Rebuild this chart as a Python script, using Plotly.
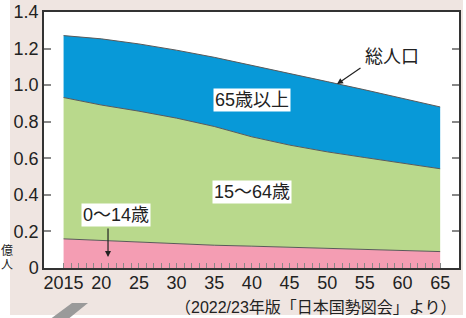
import plotly.graph_objects as go

# Data (億人)
years = [2015, 2020, 2025, 2030, 2035, 2040, 2045, 2050, 2055, 2060, 2065]
age_0_14 = [0.1595, 0.1507, 0.1407, 0.1321, 0.1246, 0.1194, 0.1138, 0.1077, 0.1012, 0.0951, 0.0898]
age_15_64 = [0.7728, 0.7406, 0.7170, 0.6875, 0.6494, 0.5978, 0.5584, 0.5275, 0.5028, 0.4793, 0.4529]
age_65_plus = [0.3387, 0.3619, 0.3677, 0.3716, 0.3782, 0.3921, 0.3919, 0.3841, 0.3704, 0.3540, 0.3381]

x_tickvals = [2015, 2020, 2025, 2030, 2035, 2040, 2045, 2050, 2055, 2060, 2065]
x_ticktext = ["2015", "20", "25", "30", "35", "40", "45", "50", "55", "60", "65"]
y_tickvals = [0, 0.2, 0.4, 0.6, 0.8, 1.0, 1.2, 1.4]
y_ticktext = ["0", "0.2", "0.4", "0.6", "0.8", "1.0", "1.2", "1.4"]
minor_years = list(range(2015, 2066))

FONT = "Liberation Sans, Arial, Noto Sans CJK JP, sans-serif"
JFONT = "Liberation Sans, Noto Sans CJK JP, sans-serif"
BEIGE = "#efe5e1"
LINE = "#5a5a5a"

fig = go.Figure()
fig.add_trace(go.Scatter(x=years, y=age_0_14, stackgroup="a", mode="lines",
                         line=dict(color=LINE, width=1), fillcolor="#f49db3", name="0〜14歳"))
fig.add_trace(go.Scatter(x=years, y=age_15_64, stackgroup="a", mode="lines",
                         line=dict(color=LINE, width=1), fillcolor="#b9d98c", name="15〜64歳"))
fig.add_trace(go.Scatter(x=years, y=age_65_plus, stackgroup="a", mode="lines",
                         line=dict(color=LINE, width=1), fillcolor="#0899d8", name="65歳以上"))

annotations = [
    dict(x=2040, y=0.921, text="65歳以上", showarrow=False, bgcolor="white",
         font=dict(size=18, color="#222", family=JFONT), borderpad=1),
    dict(x=2040, y=0.413, text="15〜64歳", showarrow=False, bgcolor="white",
         font=dict(size=18, color="#222", family=JFONT), borderpad=1),
    dict(x=2022.0, y=0.29, text="0〜14歳", showarrow=False, bgcolor="white",
         font=dict(size=18, color="#222", family=JFONT), borderpad=1),
    dict(x=2058.6, y=1.154, text="総人口", showarrow=False,
         font=dict(size=18, color="#222", family=JFONT)),
    # arrows
    dict(x=2051.3, y=1.006, text="", showarrow=True, ax=25, ay=-17,
         arrowhead=2, arrowsize=1, arrowwidth=1.2, arrowcolor="#222"),
    dict(x=2020.9, y=0.06, text="", showarrow=True, ax=0, ay=-30,
         arrowhead=2, arrowsize=1, arrowwidth=1.2, arrowcolor="#222"),
    # unit label
    dict(xref="paper", yref="paper", x=(7 - 44) / 415, y=(268 - 251) / 256, text="億",
         xanchor="center", yanchor="middle",
         showarrow=False, font=dict(size=12, color="#222", family=JFONT)),
    dict(xref="paper", yref="paper", x=(7 - 44) / 415, y=(268 - 265) / 256, text="人",
         xanchor="center", yanchor="middle",
         showarrow=False, font=dict(size=12, color="#222", family=JFONT)),
    # source
    dict(xref="paper", yref="paper", x=(459 - 44) / 415, y=(268 - 307) / 256,
         xanchor="right", yanchor="middle",
         text="（2022/23年版「日本国勢図会」より）", showarrow=False,
         font=dict(size=16, color="#222", family=JFONT)),
]

shapes = [
    # white strips outside the beige panel
    dict(type="rect", xref="paper", yref="paper", x0=-0.2, x1=(10 - 44) / 415,
         y0=-0.3, y1=1.2, fillcolor="white", line=dict(width=0), layer="above"),
    dict(type="rect", xref="paper", yref="paper", x0=(463 - 44) / 415, x1=1.2,
         y0=-0.3, y1=1.2, fillcolor="white", line=dict(width=0), layer="above"),
    dict(type="rect", xref="paper", yref="paper", x0=-0.2, x1=1.2,
         y0=-0.3, y1=(268 - 315) / 256, fillcolor="white", line=dict(width=0), layer="above"),
    # grey decorative parallelogram
    dict(type="path", xref="paper", yref="paper",
         path="M {a},{b} L {c},{b} L {d},{e} L {f},{e} Z".format(
             a=(72 - 44) / 415, b=(268 - 303) / 256, c=(88 - 44) / 415,
             d=(67 - 44) / 415, e=(268 - 320) / 256, f=(49 - 44) / 415),
         fillcolor="#9a9a9a", line=dict(width=0), layer="above"),
]

fig.update_layout(
    width=466, height=318,
    margin=dict(l=44, r=7, t=12, b=50, autoexpand=False),
    paper_bgcolor=BEIGE, plot_bgcolor="white",
    showlegend=False,
    font=dict(family=FONT, size=18, color="#222"),
    annotations=annotations, shapes=shapes,
    xaxis=dict(range=[2012.4, 2067.5], tickvals=x_tickvals, ticktext=x_ticktext,
               ticks="inside", ticklen=5, tickwidth=1.2, tickcolor="#888",
               minor=dict(tickmode="array", tickvals=minor_years, ticks="inside",
                          ticklen=5, tickwidth=1.2, tickcolor="#888"),
               showline=True, linecolor="#333", linewidth=1.5, mirror=True,
               showgrid=False, zeroline=False, ticklabelstandoff=-2,
               tickfont=dict(size=18, family=FONT, color="#222")),
    yaxis=dict(range=[0, 1.4], tickvals=y_tickvals, ticktext=y_ticktext,
               ticks="inside", ticklen=7, tickwidth=1.5, tickcolor="#888",
               showline=True, linecolor="#333", linewidth=1.5, mirror="ticks",
               showgrid=False, zeroline=False,
               tickfont=dict(size=18, family=FONT, color="#222")),
)

fig.write_html("out.html", config={"displayModeBar": False},
               post_script="document.body.style.margin='0';document.body.style.overflow='hidden';")
